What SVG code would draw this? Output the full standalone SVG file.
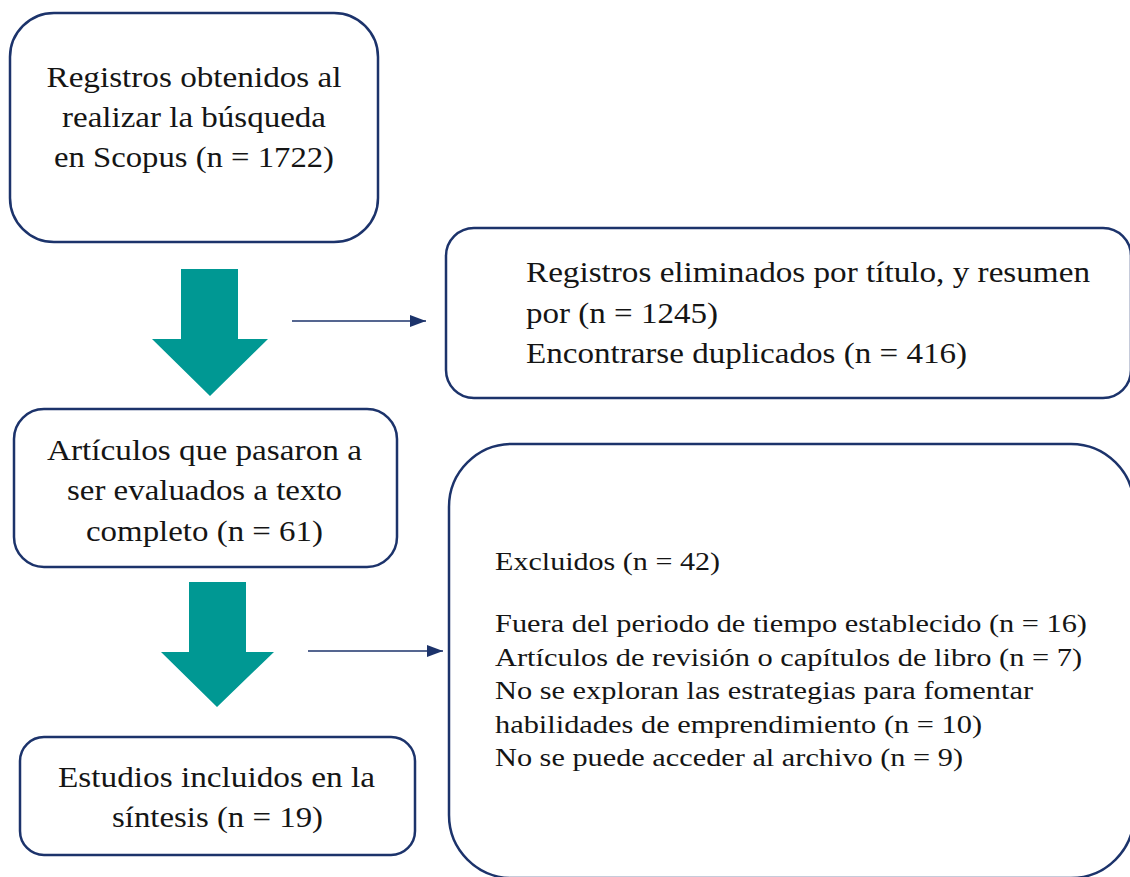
<svg xmlns="http://www.w3.org/2000/svg" width="1130" height="877" viewBox="0 0 1130 877">
<defs>
<style>
.box{fill:#fff;stroke:#1c336b;stroke-width:2.5}
.big{fill:#009893}
.t{font-family:"Liberation Serif","Times New Roman",serif;fill:#151515}
.c{font-size:30px;text-anchor:middle}
.l{font-size:30px}
.s{font-size:26px}
.conn{stroke:#1c336b;stroke-width:1.5;fill:none}
</style>
<marker id="ah" viewBox="0 0 10 10" refX="10" refY="5" markerWidth="16" markerHeight="12" markerUnits="userSpaceOnUse" orient="auto" preserveAspectRatio="none">
<path d="M0,0 L10,5 L0,10 z" fill="#1c336b"/>
</marker>
</defs>
<rect width="1130" height="877" fill="#fff"/>
<g id="node-scopus">
<rect class="box" x="10" y="13" width="368" height="229" rx="44"/>
<text class="t c" x="194" y="87" textLength="295" lengthAdjust="spacingAndGlyphs">Registros obtenidos al</text>
<text class="t c" x="194" y="127" textLength="264" lengthAdjust="spacingAndGlyphs">realizar la búsqueda</text>
<text class="t c" x="194" y="167" textLength="280" lengthAdjust="spacingAndGlyphs">en Scopus (n = 1722)</text>
</g>
<g id="arrow-1">
<path class="big" d="M181,269 H238 V339 H268 L210,396 L152,339 H181 Z"/>
</g>
<g id="node-eliminados">
<rect class="box" x="446" y="228" width="685" height="170" rx="28"/>
<text class="t l" x="526" y="282" textLength="564" lengthAdjust="spacingAndGlyphs">Registros eliminados por título, y resumen</text>
<text class="t l" x="526" y="323" textLength="192" lengthAdjust="spacingAndGlyphs">por (n = 1245)</text>
<text class="t l" x="526" y="363" textLength="441" lengthAdjust="spacingAndGlyphs">Encontrarse duplicados (n = 416)</text>
</g>
<g id="node-articulos">
<rect class="box" x="14" y="409" width="383" height="158" rx="30"/>
<text class="t c" x="204.5" y="460" textLength="315" lengthAdjust="spacingAndGlyphs">Artículos que pasaron a</text>
<text class="t c" x="204.5" y="500" textLength="275" lengthAdjust="spacingAndGlyphs">ser evaluados a texto</text>
<text class="t c" x="204.5" y="541" textLength="237" lengthAdjust="spacingAndGlyphs">completo (n = 61)</text>
</g>
<g id="arrow-2">
<path class="big" d="M189,582 H246 V652 H274 L217,707 L161,652 H189 Z"/>
</g>
<g id="node-estudios">
<rect class="box" x="20" y="737" width="395" height="118" rx="24"/>
<text class="t c" x="216.5" y="787" textLength="317" lengthAdjust="spacingAndGlyphs">Estudios incluidos en la</text>
<text class="t c" x="217.5" y="827" textLength="211" lengthAdjust="spacingAndGlyphs">síntesis (n = 19)</text>
</g>
<g id="node-excluidos">
<rect class="box" x="449" y="444" width="685" height="434" rx="63"/>
<text class="t s" x="495" y="570" textLength="225" lengthAdjust="spacingAndGlyphs">Excluidos (n = 42)</text>
<text class="t s" x="495" y="632" textLength="592" lengthAdjust="spacingAndGlyphs">Fuera del periodo de tiempo establecido (n = 16)</text>
<text class="t s" x="495" y="666" textLength="587" lengthAdjust="spacingAndGlyphs">Artículos de revisión o capítulos de libro (n = 7)</text>
<text class="t s" x="495" y="699" textLength="538" lengthAdjust="spacingAndGlyphs">No se exploran las estrategias para fomentar</text>
<text class="t s" x="495" y="733" textLength="487" lengthAdjust="spacingAndGlyphs">habilidades de emprendimiento (n = 10)</text>
<text class="t s" x="495" y="766" textLength="468" lengthAdjust="spacingAndGlyphs">No se puede acceder al archivo (n = 9)</text>
</g>
<g id="connectors">
<line class="conn" x1="292" y1="321" x2="426" y2="321" marker-end="url(#ah)"/>
<line class="conn" x1="308" y1="651" x2="443" y2="651" marker-end="url(#ah)"/>
</g>
</svg>
